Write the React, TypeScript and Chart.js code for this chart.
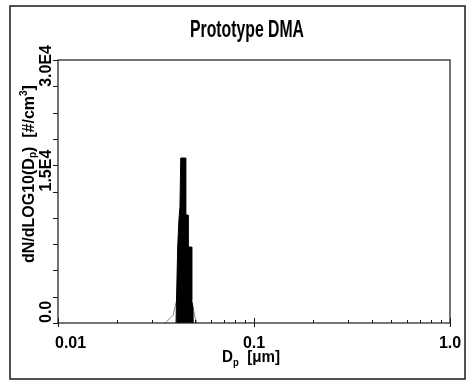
import React, { useEffect, useRef } from "react";
import { Chart, registerables } from "chart.js";

Chart.register(...registerables);

// Filled size distribution (diameter in µm, dN/dlogDp in #/cm³)
const fillDiameters = [0.0400, 0.0408, 0.0414, 0.0419, 0.0423, 0.0448, 0.0448, 0.0461, 0.0461, 0.0481, 0.0481, 0.0488, 0.0490];
const fillConcentrations = [0, 8670, 11750, 13230, 18820, 18820, 12320, 12320, 8670, 8670, 2600, 1825, 0];
// Thin outline of the distribution tails
const outlineDiameters = [0.0352, 0.0387, 0.0402, 0.0488, 0.0498, 0.0512];
const outlineConcentrations = [0, 900, 2500, 1825, 800, 0];

const xMajorTicks = [0.01, 0.1, 1.0];
const xTickLabels = ["0.01", "0.1", "1.0"];
const yMajorTicks = [0, 15000, 30000];
const yTickLabels = ["0.0", "1.5E4", "3.0E4"];
const yMinorStep = 3000;

const FONT = "'Liberation Sans Narrow', 'Liberation Sans', Arial, sans-serif";

const framePlugin = {
  id: "framePlugin",
  afterDraw(chart: any) {
    const ctx: CanvasRenderingContext2D = chart.ctx;
    const { left, right, top, bottom } = chart.chartArea;
    const xs = chart.scales.x;
    const ys = chart.scales.y;
    ctx.save();
    ctx.strokeStyle = "#1a1a1a";
    ctx.fillStyle = "#000";
    // outer frame
    ctx.lineWidth = 1.5;
    ctx.strokeRect(10, 6, 455, 373);
    // plot frame
    ctx.lineWidth = 1.2;
    ctx.strokeRect(left, top, right - left, bottom - top);
    // x ticks
    ctx.lineWidth = 1;
    ctx.beginPath();
    for (let d = 0.01; d < 1; d *= 10) {
      for (let k = 1; k <= 10; k++) {
        const v = d * k;
        const px = Math.round(xs.getPixelForValue(v)) + 0.5;
        const major = k === 1 || k === 10;
        ctx.moveTo(px, bottom + (major ? 4 : 0));
        ctx.lineTo(px, bottom - (major ? 5 : 3));
      }
    }
    // y ticks
    for (let v = 0; v <= 30000; v += yMinorStep) {
      const py = Math.round(ys.getPixelForValue(v)) + 0.5;
      ctx.moveTo(left - 5, py);
      ctx.lineTo(left, py);
    }
    ctx.stroke();

    // x tick labels
    ctx.font = `bold 16px ${FONT}`;
    ctx.textBaseline = "alphabetic";
    ctx.textAlign = "left";
    xMajorTicks.forEach((v, i) => {
      const t = xTickLabels[i];
      const w = ctx.measureText(t).width;
      let x0 = xs.getPixelForValue(v) - w / 2;
      if (x0 < left - 3) x0 = left - 3;
      ctx.fillText(t, x0, 348);
    });

    // y tick labels (rotated)
    yMajorTicks.forEach((v, i) => {
      const t = yTickLabels[i];
      const w = ctx.measureText(t).width;
      let start = ys.getPixelForValue(v);
      if (start - w < top - 15) start = top - 15 + w;
      ctx.save();
      ctx.translate(51, start);
      ctx.rotate(-Math.PI / 2);
      ctx.fillText(t, 0, 0);
      ctx.restore();
    });

    // title
    ctx.font = `bold 23px ${FONT}`;
    ctx.textAlign = "center";
    ctx.fillText("Prototype DMA", 247, 37, 114);

    const measureRich = (parts: { t: string; s: number }[], size: number) => {
      ctx.textAlign = "left";
      let w = 0;
      const widths = parts.map((p) => {
        ctx.font = `bold ${p.s === 0 ? size : Math.round(size * 0.65)}px ${FONT}`;
        const m = ctx.measureText(p.t).width;
        w += m;
        return m;
      });
      return { w, widths };
    };
    const renderRich = (
      parts: { t: string; s: number }[],
      size: number,
      widths: number[],
      scale: number,
      subDy: number
    ) => {
      let x = 0;
      parts.forEach((p, i) => {
        ctx.font = `bold ${p.s === 0 ? size : Math.round(size * 0.65)}px ${FONT}`;
        const dy = p.s === -1 ? size * subDy : p.s === 1 ? -size * 0.42 : 0;
        ctx.fillText(p.t, x, dy, widths[i] * scale);
        x += widths[i] * scale;
      });
    };

    // x title
    const xParts = [
      { t: "D", s: 0 },
      { t: "p", s: -1 },
      { t: "  [μm]", s: 0 },
    ];
    const xr = measureRich(xParts, 16);
    const xScale = Math.min(1, 58 / xr.w);
    ctx.save();
    ctx.translate(251 - (xr.w * xScale) / 2, 362);
    renderRich(xParts, 16, xr.widths, xScale, 0.28);
    ctx.restore();

    // y title
    const yParts = [
      { t: "dN/dLOG10(D", s: 0 },
      { t: "p", s: -1 },
      { t: ")  [#/cm", s: 0 },
      { t: "3", s: 1 },
      { t: "]", s: 0 },
    ];
    const yr = measureRich(yParts, 16);
    const yScale = Math.min(1, 188 / yr.w);
    ctx.save();
    ctx.translate(34, 263);
    ctx.rotate(-Math.PI / 2);
    renderRich(yParts, 16, yr.widths, yScale, 0.12);
    ctx.restore();

    ctx.restore();
  },
};

export default function App() {
  const ref = useRef<HTMLCanvasElement | null>(null);
  useEffect(() => {
    if (!ref.current) return;
    const chart = new Chart(ref.current, {
      type: "line",
      data: {
        datasets: [
          {
            data: fillDiameters.map((x, i) => ({ x, y: fillConcentrations[i] })),
            borderColor: "#000",
            backgroundColor: "#000",
            borderWidth: 1,
            fill: "origin",
            pointRadius: 0,
            tension: 0,
          },
          {
            data: outlineDiameters.map((x, i) => ({ x, y: outlineConcentrations[i] })),
            borderColor: "#555",
            backgroundColor: "transparent",
            borderWidth: 0.7,
            fill: false,
            pointRadius: 0,
            tension: 0,
          },
        ],
      },
      options: {
        animation: false,
        responsive: false,
        layout: { padding: { left: 58, right: 20, top: 60, bottom: 59 } },
        plugins: { legend: { display: false }, tooltip: { enabled: false }, title: { display: false } },
        scales: {
          x: {
            type: "logarithmic",
            display: false,
            min: 0.01,
            max: 1,
          },
          y: {
            type: "linear",
            display: false,
            min: 0,
            max: 30000,
          },
        },
      },
      plugins: [framePlugin],
    });
    return () => chart.destroy();
  }, []);
  return (
    <div style={{ position: "fixed", left: 0, top: 0, width: 470, height: 382, background: "#fff" }}>
      <canvas ref={ref} width={470} height={382} />
    </div>
  );
}
